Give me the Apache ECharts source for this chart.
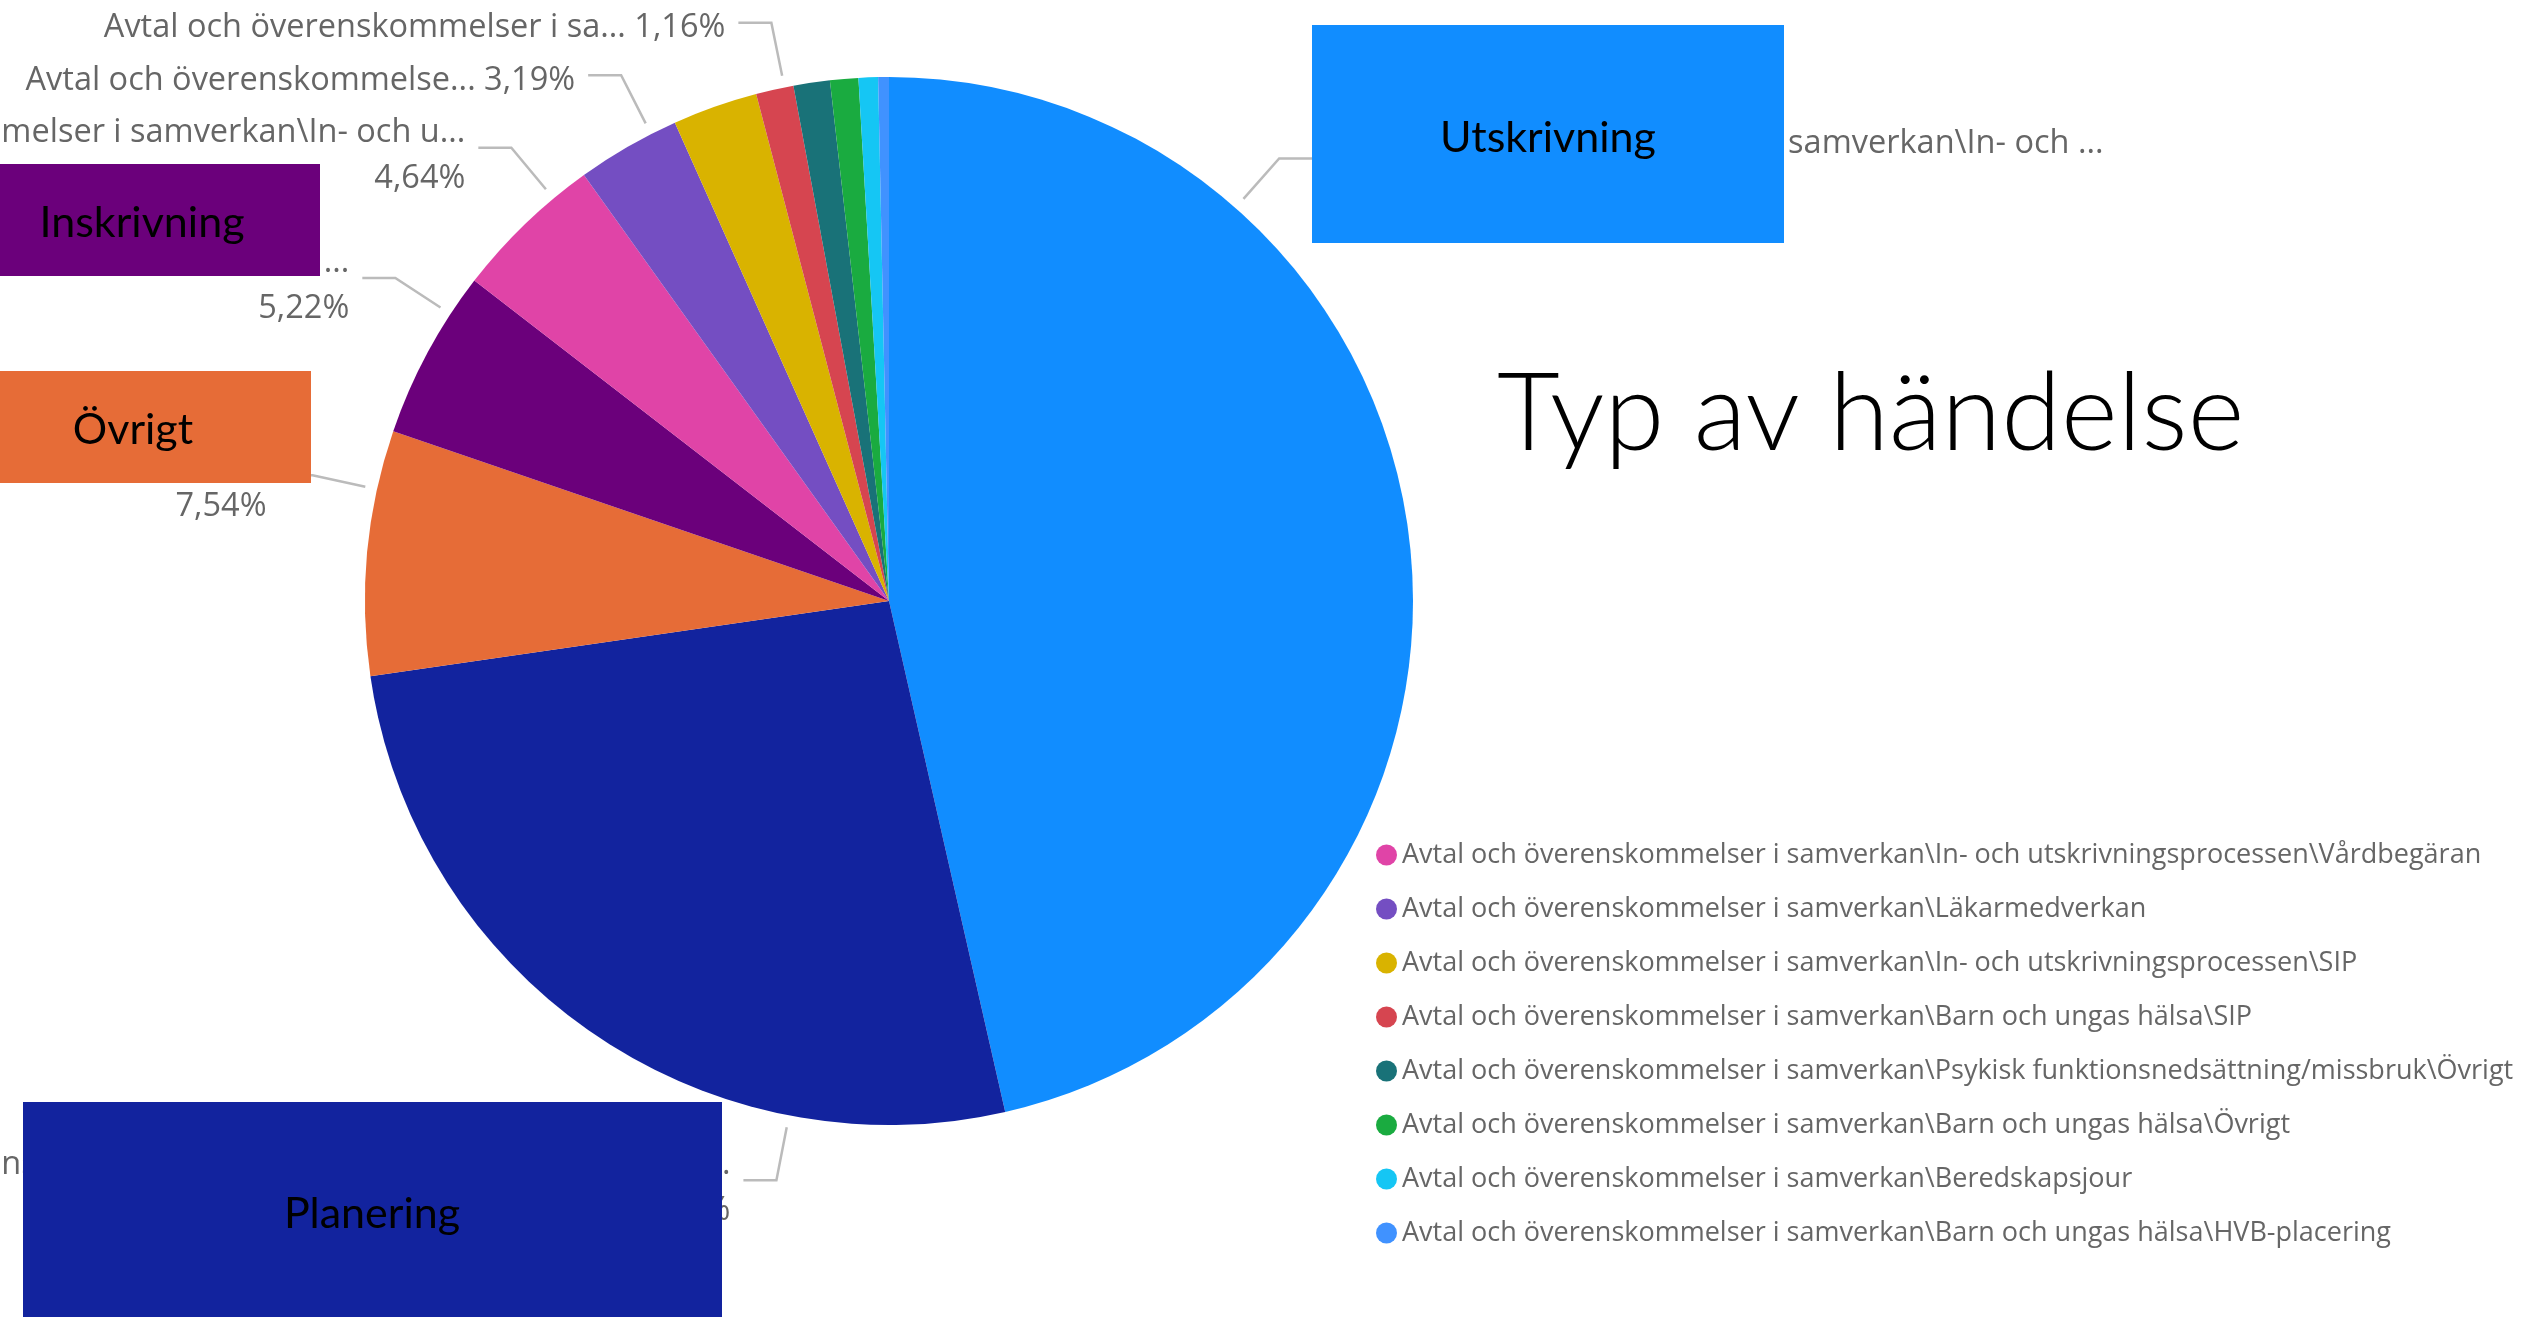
<!DOCTYPE html>
<html>
<head>
<meta charset="utf-8">
<script src="https://cdn.jsdelivr.net/npm/echarts@6/dist/echarts.min.js"></script>
<style>
html,body{margin:0;padding:0;background:#ffffff;}
#chart{width:2526px;height:1317px;}
</style>
</head>
<body>
<div id="chart"></div>
<script>
// ---------- data ----------
const categories = [
  "Avtal och överenskommelser i samverkan\\In- och utskrivningsprocessen\\Utskrivning",
  "Avtal och överenskommelser i samverkan\\In- och utskrivningsprocessen\\Planering",
  "Avtal och överenskommelser i samverkan\\In- och utskrivningsprocessen\\Övrigt",
  "Avtal och överenskommelser i samverkan\\In- och utskrivningsprocessen\\Inskrivning",
  "Avtal och överenskommelser i samverkan\\In- och utskrivningsprocessen\\Vårdbegäran",
  "Avtal och överenskommelser i samverkan\\Läkarmedverkan",
  "Avtal och överenskommelser i samverkan\\In- och utskrivningsprocessen\\SIP",
  "Avtal och överenskommelser i samverkan\\Barn och ungas hälsa\\SIP",
  "Avtal och överenskommelser i samverkan\\Psykisk funktionsnedsättning/missbruk\\Övrigt",
  "Avtal och överenskommelser i samverkan\\Barn och ungas hälsa\\Övrigt",
  "Avtal och överenskommelser i samverkan\\Beredskapsjour",
  "Avtal och överenskommelser i samverkan\\Barn och ungas hälsa\\HVB-placering"
];
const shares = [46.44, 26.27, 7.54, 5.22, 4.64, 3.19, 2.62, 1.16, 1.12, 0.87, 0.60, 0.33];
const sliceColors = ["#118DFF", "#12239E", "#E66C37", "#6B007B", "#E044A7", "#744EC2",
                     "#D9B300", "#D64550", "#197278", "#1AAB40", "#15C6F4", "#4092FF"];
// truncated label heads as shown on the chart (null = no label)
const labelHeads = [
  "Avtal och överenskommelser i samverkan\\In- och ...",
  "Avtal och överenskommelser i samverkan\\In- och utskrivnings...",
  "Avtal och överenskommelser i samverkan\\In- och ...",
  "Avtal och överenskommelser i samverkan\\In- och ...",
  "Avtal och överenskommelser i samverkan\\In- och u...",
  "Avtal och överenskommelse...",
  null,
  "Avtal och överenskommelser i sa...",
  null, null, null, null
];
const labelOneLine = [false, false, false, false, false, true, false, true, false, false, false, false];
const legendNames = categories.slice(4);
const titleText = "Typ av händelse";
const overlayTexts = ["Utskrivning", "Inskrivning", "Övrigt", "Planering"];

// ---------- layout / style (not data) ----------
const CX = 889, CY = 601, R = 524;
const R0 = 536, SEG1 = 54, SEG2 = 33, GAP = 13;
const labelAnchorDeg = {0: 41.4, 1: 191, 2: 282.3, 3: 303.2, 4: 320.2, 5: 333, 7: 348.5};
const overlayGeom = [
  {x: 1312, y: 25,   w: 472, h: 218, tx: 1548, ty: 138, fill: "#118DFF"},
  {x: -36,  y: 164,  w: 356, h: 112, tx: 142,  ty: 223, fill: "#6B007B"},
  {x: -45,  y: 371,  w: 356, h: 112, tx: 133,  ty: 430, fill: "#E66C37"},
  {x: 23,   y: 1102, w: 699, h: 230, tx: 372,  ty: 1214, fill: "#12239E"}
];

const total = shares.reduce((a, b) => a + b, 0);
function pct(v) { return (v / total * 100).toFixed(2).replace('.', ',') + '%'; }

const pieData = categories.map((name, i) => ({
  name: name,
  value: shares[i],
  itemStyle: {color: sliceColors[i]},
  label: {show: labelHeads[i] !== null},
  labelLine: {show: labelHeads[i] !== null}
}));

const graphics = [];
overlayGeom.forEach((g, i) => {
  graphics.push({type: 'rect', z: 100, shape: {x: g.x, y: g.y, width: g.w, height: g.h},
                 style: {fill: g.fill}});
  graphics.push({type: 'text', z: 101, x: g.tx, y: g.ty,
                 style: {text: overlayTexts[i], fill: '#000000', fontFamily: 'Lato', fontSize: 43,
                         align: 'center', verticalAlign: 'middle'}});
});
graphics.push({type: 'text', z: 101, x: 1497, y: 415,
               style: {text: titleText, fill: '#000000', fontFamily: 'Lato', fontWeight: 300,
                       fontSize: 108.5, align: 'left', verticalAlign: 'middle'}});

const chart = echarts.init(document.getElementById('chart'), null, {renderer: 'canvas'});
chart.setOption({
  backgroundColor: '#ffffff',
  animation: false,
  legend: {
    orient: 'vertical',
    left: 1376,
    top: 840,
    padding: 0,
    icon: 'circle',
    itemWidth: 21,
    itemHeight: 21,
    itemGap: 24,
    selectedMode: false,
    data: legendNames,
    textStyle: {fontFamily: 'Open Sans', fontSize: 27, color: '#666666', lineHeight: 30}
  },
  series: [{
    type: 'pie',
    center: [CX, CY],
    radius: [0, R],
    startAngle: 90,
    clockwise: true,
    avoidLabelOverlap: false,
    itemStyle: {borderWidth: 0},
    emphasis: {disabled: true},
    label: {
      position: 'outside',
      width: 1600,
      overflow: 'none',
      fontFamily: 'Open Sans',
      fontSize: 32.5,
      lineHeight: 46,
      color: '#666666',
      formatter: function (p) {
        const i = p.dataIndex;
        const head = labelHeads[i];
        if (head === null) return '';
        return labelOneLine[i] ? head + ' ' + pct(p.value) : head + '\n' + pct(p.value);
      }
    },
    labelLine: {show: true, smooth: false, length: 20, length2: 20,
                lineStyle: {color: '#BBBBBB', width: 2.5}},
    labelLayout: function (p) {
      const a = labelAnchorDeg[p.dataIndex];
      if (a == null) return {};
      const rad = a * Math.PI / 180, s = Math.sin(rad), c = Math.cos(rad);
      const p0 = [CX + R0 * s, CY - R0 * c];
      const p1 = [CX + (R0 + SEG1) * s, CY - (R0 + SEG1) * c];
      const right = s >= 0;
      const p2 = [p1[0] + (right ? SEG2 : -SEG2), p1[1]];
      return {
        x: p2[0] + (right ? GAP : -GAP),
        y: p1[1] + (labelOneLine[p.dataIndex] ? 5 : 8),
        align: right ? 'left' : 'right',
        verticalAlign: 'middle',
        labelLinePoints: [p0, p1, p2]
      };
    },
    data: pieData
  }],
  graphic: graphics
});
</script>
</body>
</html>
